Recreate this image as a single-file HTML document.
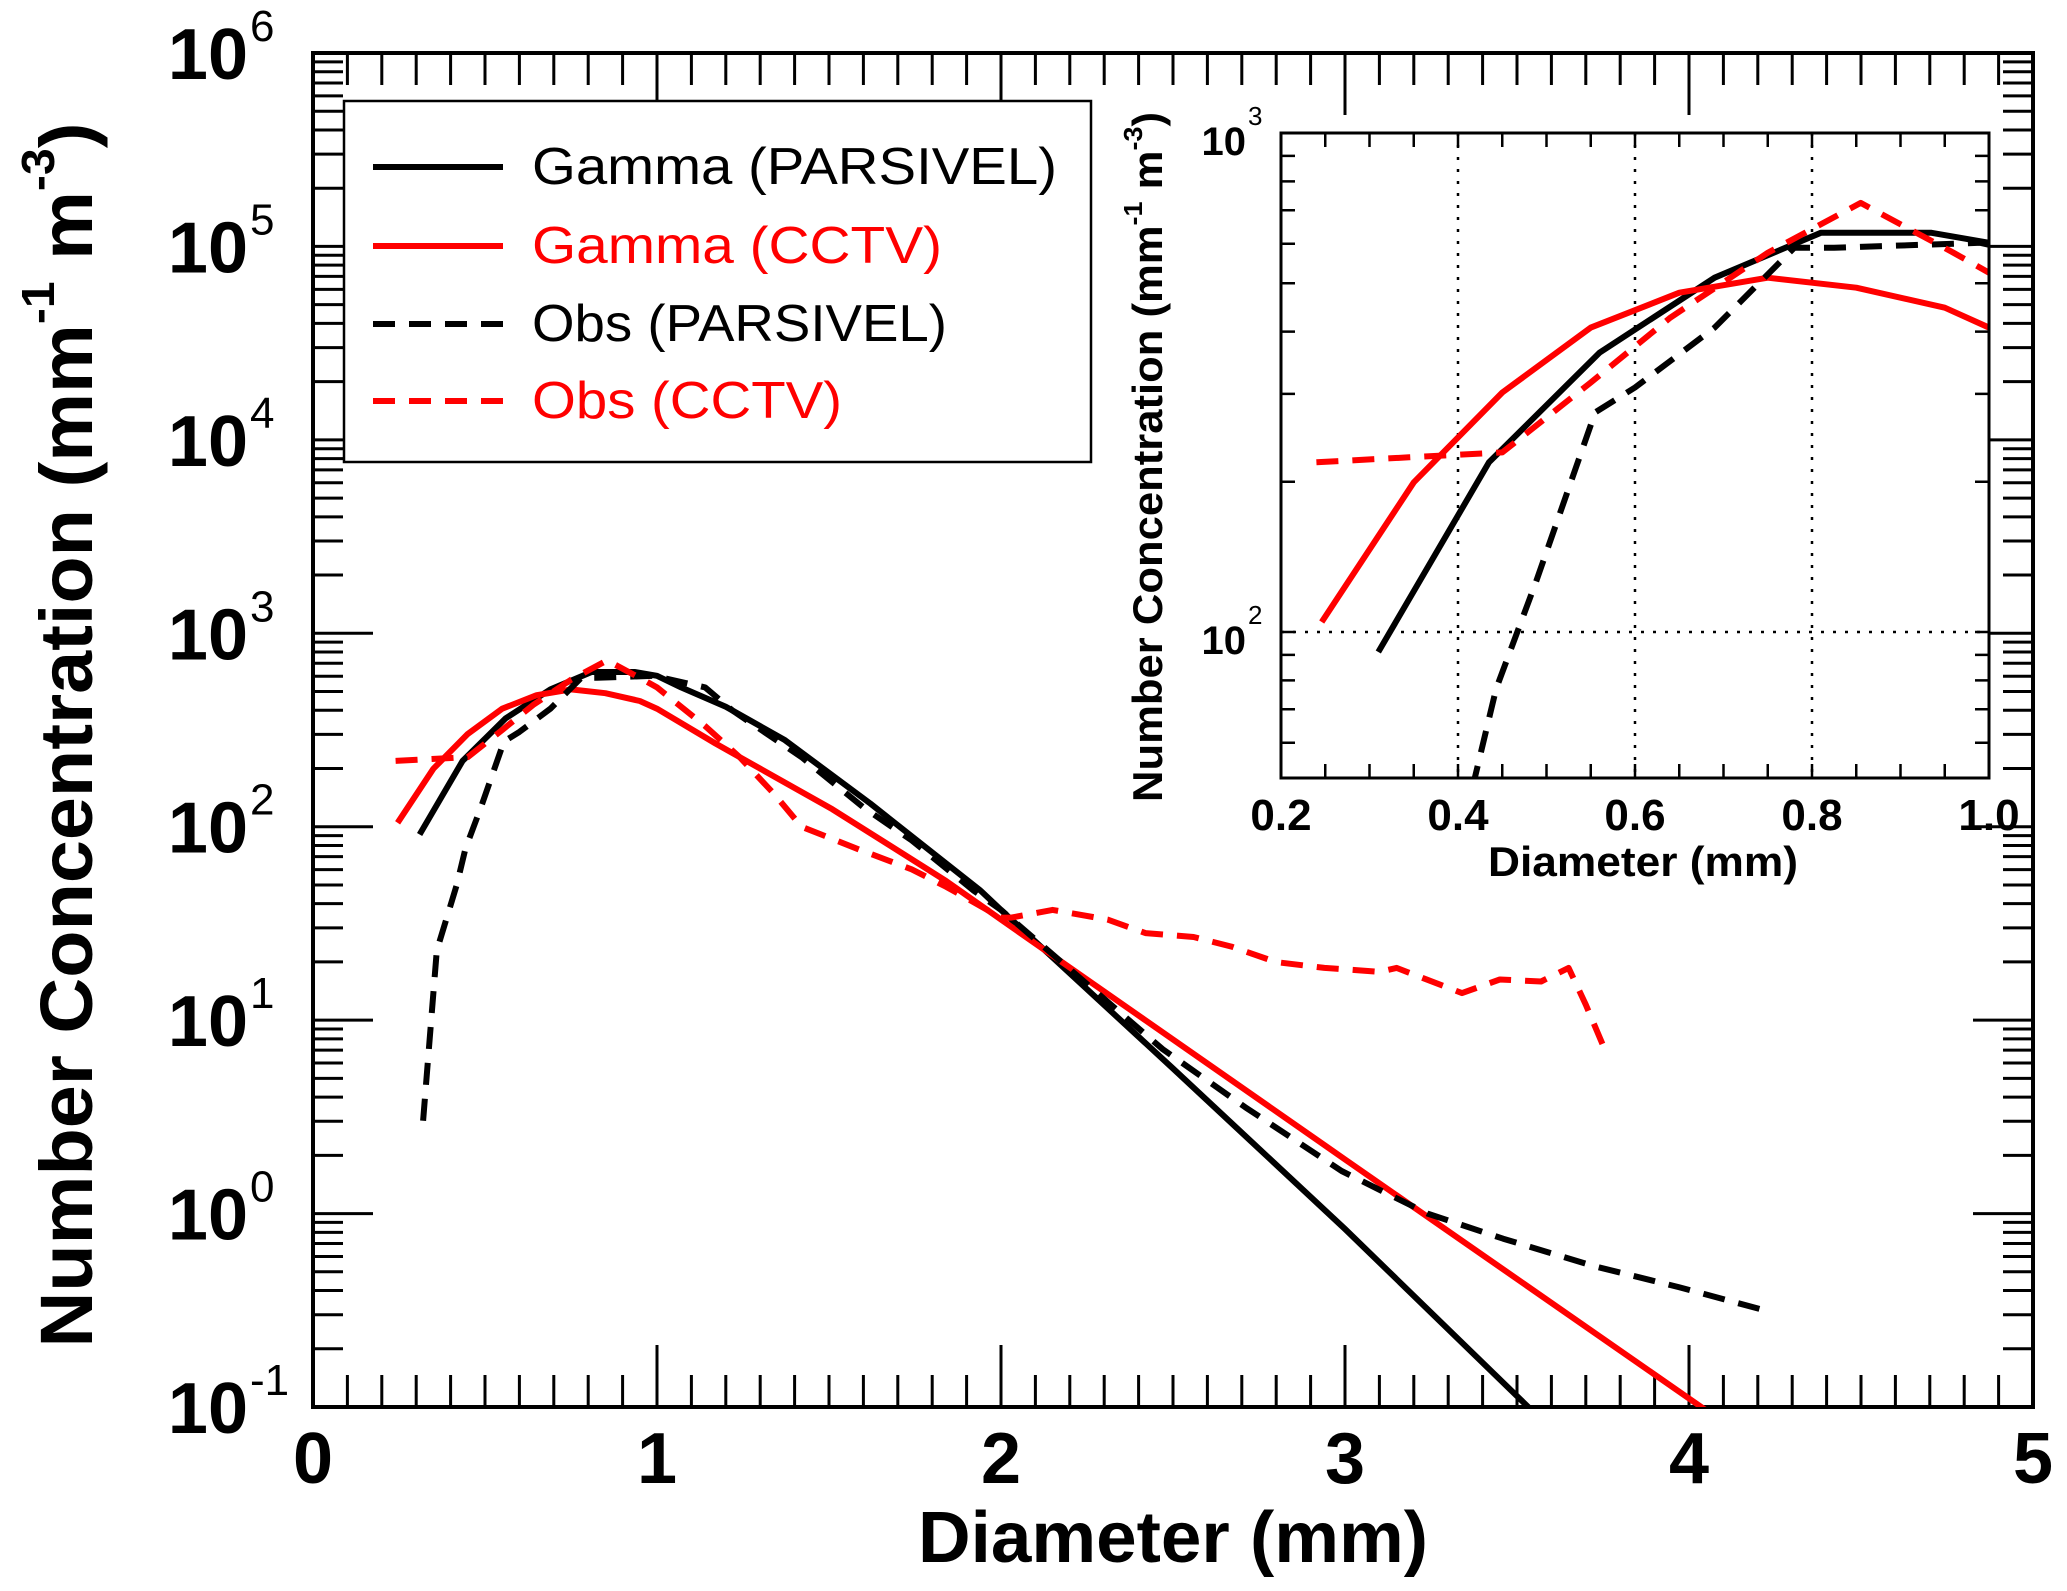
<!DOCTYPE html>
<html><head><meta charset="utf-8"><style>
html,body{margin:0;padding:0;background:#fff;overflow:hidden;width:2067px;height:1591px}
svg{display:block}
text{font-family:"Liberation Sans",sans-serif}
</style></head><body>
<svg id="chart" width="2067" height="1591" viewBox="0 0 2067 1591" xmlns="http://www.w3.org/2000/svg">
<g id="main"></g>
<g id="inset"></g>
<g id="legend"></g>
</svg>
<script>
const NS='http://www.w3.org/2000/svg';
// ---- data: D (mm) and log10 N ----
const gpD=[0.31,0.435,0.56,0.69,0.81,0.935,1.0,1.07,1.2,1.37,1.62,1.94,2.0,2.5,3.0,3.55];
const gpL=[1.96,2.34,2.56,2.71,2.80,2.80,2.78,2.72,2.62,2.45,2.12,1.67,1.57,0.75,-0.08,-1.03];
const gcD=[0.246,0.35,0.45,0.55,0.65,0.75,0.85,0.95,1.0,1.17,1.51,1.84,2.0,3.0,4.06];
const gcL=[2.02,2.30,2.48,2.61,2.68,2.71,2.69,2.65,2.61,2.43,2.09,1.72,1.52,0.28,-1.03];
const opD=[0.32,0.36,0.418,0.443,0.488,0.555,0.6,0.69,0.78,0.825,0.99,1.14,1.22,1.42,1.6,1.74,1.92,2.0,2.47,2.71,2.99,3.24,3.46,3.72,3.97,4.24];
const opL=[0.48,1.36,1.70,1.886,2.10,2.44,2.49,2.61,2.77,2.77,2.78,2.72,2.60,2.36,2.10,1.93,1.67,1.57,0.85,0.55,0.22,0.0,-0.13,-0.27,-0.38,-0.51];
const ocD=[0.24,0.345,0.45,0.55,0.64,0.75,0.855,0.96,1.0,1.14,1.24,1.34,1.42,1.59,1.74,1.84,2.0,2.03,2.15,2.31,2.42,2.56,2.67,2.80,2.94,3.10,3.15,3.34,3.45,3.57,3.65,3.70,3.75];
const ocL=[2.34,2.35,2.36,2.50,2.63,2.76,2.86,2.76,2.72,2.52,2.36,2.17,2.0,1.88,1.78,1.69,1.53,1.53,1.57,1.52,1.45,1.43,1.38,1.30,1.27,1.25,1.27,1.14,1.21,1.20,1.27,1.08,0.87];
const xTicks=['0','1','2','3','4','5'];
const yExps=['-1','0','1','2','3','4','5','6'];
const ixTicks=['0.2','0.4','0.6','0.8','1.0'];
const legendLabels=['Gamma (PARSIVEL)','Gamma (CCTV)','Obs (PARSIVEL)','Obs (CCTV)'];

function mk(tag,attrs,parent){const e=document.createElementNS(NS,tag);for(const k in attrs)e.setAttribute(k,attrs[k]);parent.appendChild(e);return e;}
const main=document.getElementById('main'),inset=document.getElementById('inset'),leg=document.getElementById('legend');

const L=313,R=2033,T=53,B=1407;
const X=d=>L+d*(R-L)/5;
const Y=l=>B-(l+1)*(B-T)/7;
const IL=1281,IR=1989,IT=133,IB=778;
const IX=d=>IL+(d-0.2)*(IR-IL)/0.8;
const IY=l=>IT+(3-l)*499;

function series(D,Lg,xf,yf,color,dash,parent,name,clip){
  let p='';D.forEach((d,i)=>{p+=(i?'L':'M')+xf(d).toFixed(1)+','+yf(Lg[i]).toFixed(1);});
  const a={d:p,fill:'none',stroke:color,'stroke-width':6,'stroke-linejoin':'round'};
  if(dash)a['stroke-dasharray']='22,14';
  if(clip)a['clip-path']=clip;
  const e=mk('path',a,parent);
  
  
}
const defs=mk('defs',{},document.getElementById('chart'));
const c1=mk('clipPath',{id:'mc'},defs);mk('rect',{x:L,y:T,width:R-L,height:B-T},c1);
const c2=mk('clipPath',{id:'ic'},defs);mk('rect',{x:IL,y:IT,width:IR-IL,height:IB-IT},c2);

let tk='';
for(let i=0;i<=50;i++){const x=X(i/10);const len=i%10===0?62:32;tk+=`M${x},${B}v${-len}M${x},${T}v${len}`;}
for(let dec=-1;dec<6;dec++){for(let m=1;m<=9;m++){const l=dec+Math.log10(m);const y=Y(l);const len=m===1?60:30;tk+=`M${L},${y}h${len}M${R},${y}h${-len}`;}}
tk+=`M${L},${Y(6)}h60M${R},${Y(6)}h-60`;
const mt=mk('path',{d:tk,stroke:'#000','stroke-width':3,fill:'none'},main);

const mf=mk('rect',{x:L,y:T,width:R-L,height:B-T,fill:'none',stroke:'#000','stroke-width':4},main);

xTicks.forEach((t,i)=>{const e=mk('text',{x:X(i),y:1483,'text-anchor':'middle','font-size':72,'font-weight':'bold'},main);e.textContent=t;
});
yExps.forEach((t,i)=>{const e=mk('text',{x:248,y:Y(i-1)+26,'text-anchor':'end','font-size':72,'font-weight':'bold'},main);e.textContent='10';

const s=mk('text',{x:250,y:Y(i-1)-12,'font-size':44},main);s.textContent=t;
});
let xt=mk('text',{x:1173,y:1562,'text-anchor':'middle','font-size':72,'font-weight':'bold',textLength:510,lengthAdjust:'spacingAndGlyphs'},main);xt.textContent='Diameter (mm)';

let yt=mk('text',{transform:'translate(92,735) rotate(-90)','text-anchor':'middle','font-size':74,'font-weight':'bold',textLength:1225,lengthAdjust:'spacingAndGlyphs'},main);
yt.innerHTML='Number Concentration (mm<tspan font-size="46" dy="-38">-1</tspan><tspan dy="38"> m</tspan><tspan font-size="46" dy="-38">-3</tspan><tspan dy="38">)</tspan>';


series(gpD,gpL,X,Y,'#000',false,main,'gamma-parsivel-line','url(#mc)');
series(gcD,gcL,X,Y,'#f00',false,main,'gamma-cctv-line','url(#mc)');
series(opD,opL,X,Y,'#000',true,main,'obs-parsivel-line','url(#mc)');
series(ocD,ocL,X,Y,'#f00',true,main,'obs-cctv-line','url(#mc)');

const ibg=mk('rect',{x:IL,y:IT,width:IR-IL,height:IB-IT,fill:'#fff'},inset);

let g='';[0.4,0.6,0.8].forEach(d=>{g+=`M${IX(d)},${IT}V${IB}`;});g+=`M${IL},${IY(2)}H${IR}`;
const gr=mk('path',{d:g,stroke:'#000','stroke-width':2.5,'stroke-dasharray':'3,9',fill:'none'},inset);

let itk='';
for(let i=0;i<=16;i++){const x=IX(0.2+i*0.05);itk+=`M${x},${IB}v-14M${x},${IT}v14`;}
for(let dec=1;dec<3;dec++){for(let m=1;m<=9;m++){const l=dec+Math.log10(m);if(l<1.7)continue;const y=IY(l);itk+=`M${IL},${y}h14M${IR},${y}h-14`;}}
const it=mk('path',{d:itk,stroke:'#000','stroke-width':2.5,fill:'none'},inset);

series(gpD,gpL,IX,IY,'#000',false,inset,'inset-gamma-parsivel-line','url(#ic)');
series(gcD,gcL,IX,IY,'#f00',false,inset,'inset-gamma-cctv-line','url(#ic)');
series(opD,opL,IX,IY,'#000',true,inset,'inset-obs-parsivel-line','url(#ic)');
series(ocD,ocL,IX,IY,'#f00',true,inset,'inset-obs-cctv-line','url(#ic)');
const ifr=mk('rect',{x:IL,y:IT,width:IR-IL,height:IB-IT,fill:'none',stroke:'#000','stroke-width':3},inset);

ixTicks.forEach((t,i)=>{const e=mk('text',{x:IX(0.2+i*0.2),y:830,'text-anchor':'middle','font-size':44,'font-weight':'bold'},inset);e.textContent=t;
});
[['2',2],['3',3]].forEach(([t,l])=>{const e=mk('text',{x:1246,y:IY(l)+22,'text-anchor':'end','font-size':40,'font-weight':'bold'},inset);e.textContent='10';

const s=mk('text',{x:1248,y:IY(l)-8,'font-size':26},inset);s.textContent=t;
});
let ixt=mk('text',{x:1643,y:876,'text-anchor':'middle','font-size':42,'font-weight':'bold',textLength:310,lengthAdjust:'spacingAndGlyphs'},inset);ixt.textContent='Diameter (mm)';

let iyt=mk('text',{transform:'translate(1162,457) rotate(-90)','text-anchor':'middle','font-size':42,'font-weight':'bold',textLength:690,lengthAdjust:'spacingAndGlyphs'},inset);
iyt.innerHTML='Number Concentration (mm<tspan font-size="26" dy="-20">-1</tspan><tspan dy="20"> m</tspan><tspan font-size="26" dy="-20">-3</tspan><tspan dy="20">)</tspan>';


const lb=mk('rect',{x:344,y:101,width:747,height:361,fill:'#fff',stroke:'#000','stroke-width':2.5},leg);

const lc=['#000','#f00','#000','#f00'],ld=[false,false,true,true],ly=[167,246,324,401],lt=[525,410,415,310];
legendLabels.forEach((t,i)=>{
  const a={x1:373,x2:503,y1:ly[i],y2:ly[i],stroke:lc[i],'stroke-width':6};if(ld[i])a['stroke-dasharray']='22,14';
  const s=mk('line',a,leg);
  
  const e=mk('text',{x:532,y:ly[i]+17,'font-size':52,fill:lc[i],textLength:lt[i],lengthAdjust:'spacingAndGlyphs'},leg);e.textContent=t;
  
});
</script>
</body></html>
